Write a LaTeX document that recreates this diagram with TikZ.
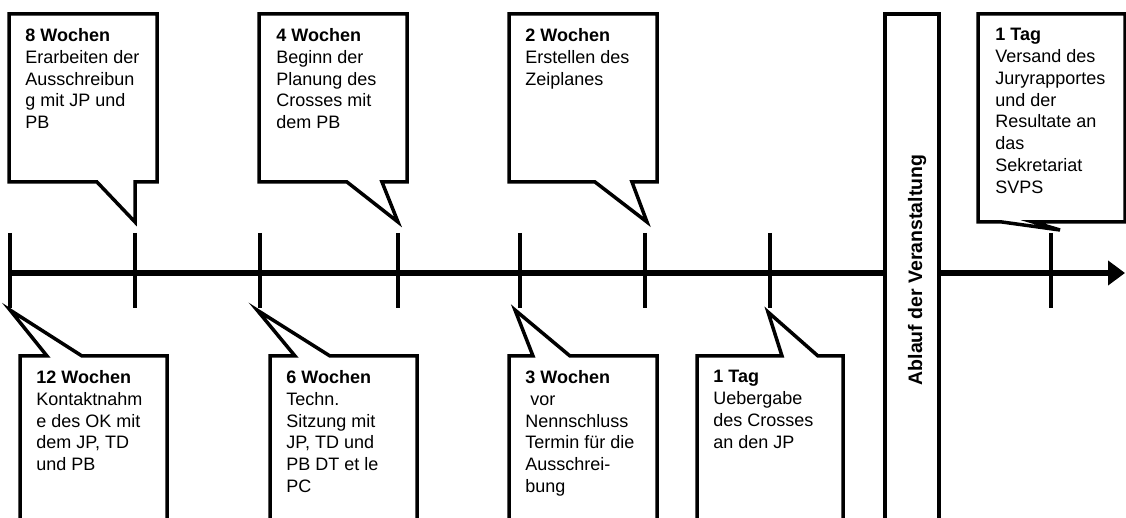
\documentclass[tikz,border=0pt]{standalone}
\usepackage{fontspec}
\setmainfont{Liberation Sans}
\usetikzlibrary{arrows.meta}

\tikzset{
  callout/.style={line width=1.75pt, line join=miter, fill=white},
  tickline/.style={line width=2pt},
  timeline/.style={line width=2.75pt},
  boxtext/.style={anchor=north west, inner sep=0pt, align=left,
    font=\fontsize{9}{10.9}\selectfont},
}

\begin{document}
\begin{tikzpicture}[x=0.5pt, y=-0.5pt]
            \clip (0,0) rectangle (1126,518);
            \fill[white] (0,0) rectangle (1126,518);

            \foreach \n/\x in {1/10,2/135,3/260,4/398,5/520,6/645,7/770,8/1051}
                \coordinate (t\n) at (\x,273);
            \coordinate (vorher) at (885,273);
            \coordinate (nachher) at (939,273);
            \coordinate (ende) at (1125,273);

            \draw[timeline] (t1) -- (vorher);
            \draw[timeline,-{Triangle[length=8.5pt,width=12pt]}] (nachher) -- (ende);
            \foreach \n in {1,...,8}
                \draw[tickline] (t\n) ++(0,-40) -- ++(0,75);

            \draw[callout] (885,14) rectangle (939,540);
            \node[rotate=90, anchor=base, inner sep=0pt,
                font=\fontsize{9.75}{11}\selectfont\bfseries] (ablauf) at (922,270)
                {Ablauf der Veranstaltung};

            % oben
            \draw[callout] (97,182) -- (9,182) -- (9,14) -- (157,14) -- (157,182)
                -- (135,182) -- (135,222) -- cycle;
            \node[boxtext] (acht) at (25,28)
                {\textbf{8 Wochen}\\Erarbeiten der\\Ausschreibun\\g mit JP und\\PB};

            \draw[callout] (347,182) -- (259,182) -- (259,14) -- (407,14) -- (407,182)
                -- (382,182) -- (398,222) -- cycle;
            \node[boxtext] (vier) at (276,28)
                {\textbf{4 Wochen}\\Beginn der\\Planung des\\Crosses mit\\dem PB};

            \draw[callout] (595,182) -- (509,182) -- (509,14) -- (657,14) -- (657,182)
                -- (632,182) -- (647,222) -- cycle;
            \node[boxtext] (zwei) at (525,28)
                {\textbf{2 Wochen}\\Erstellen des\\Zeiplanes};

            \draw[callout] (1002,222) -- (978,222) -- (978,14) -- (1125,14) -- (1125,222)
                -- (1033,222) -- (1060,230) -- cycle;
            \node[boxtext] (versand) at (995,28)
                {\textbf{1 Tag}\\Versand des\\Juryrapportes\\und der\\Resultate an\\das\\Sekretariat\\SVPS};

            % unten
            \draw[callout] (20,540) -- (20,356) -- (47,356) -- (10,310) -- (82,356)
                -- (167,356) -- (167,540);
            \node[boxtext] (zwoelf) at (36,370)
                {\textbf{12 Wochen}\\Kontaktnahm\\e des OK mit\\dem JP, TD\\und PB};

            \draw[callout] (270,540) -- (270,356) -- (295,356) -- (257,310) -- (330,356)
                -- (417,356) -- (417,540);
            \node[boxtext] (sechs) at (286,370)
                {\textbf{6 Wochen}\\Techn.\\Sitzung mit\\JP, TD und\\PB DT et le\\PC};

            \draw[callout] (509,540) -- (509,356) -- (533,356) -- (515,310) -- (570,356)
                -- (657,356) -- (657,540);
            \node[boxtext] (drei) at (525,370)
                {\textbf{3 Wochen}\\\mbox{}\ vor\\Nennschluss\\Termin für die\\Ausschrei-\\bung};

            \draw[callout] (697,540) -- (697,356) -- (782,356) -- (768,312) -- (818,356)
                -- (843,356) -- (843,540);
            \node[boxtext] (uebergabe) at (713,370)
                {\textbf{1 Tag}\\Uebergabe\\des Crosses\\an den JP};
        \end{tikzpicture}
\end{document}
